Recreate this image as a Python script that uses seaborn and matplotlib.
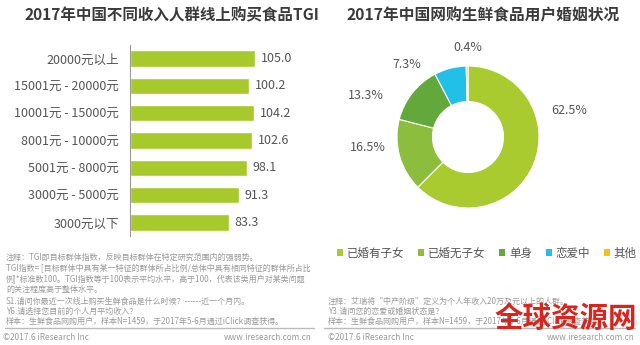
import matplotlib
matplotlib.use("Agg")
import matplotlib.pyplot as plt
import seaborn as sns
import pandas as pd
import numpy as np
from matplotlib.patches import Patch

sns.set_theme(style="white")
plt.rcParams['font.family'] = ['Noto Sans CJK SC', 'DejaVu Sans']

# ---- data ----
income_labels = ["20000元以上", "15001元 - 20000元", "10001元 - 15000元", "8001元 - 10000元",
                 "5001元 - 8000元", "3000元 - 5000元", "3000元以下"]
tgi_values = [105.0, 100.2, 104.2, 102.6, 98.1, 91.3, 83.3]

marital_labels = ["已婚有子女", "已婚无子女", "单身", "恋爱中", "其他"]
marital_share = [62.5, 16.5, 13.3, 7.3, 0.4]

title_left = "2017年中国不同收入人群线上购买食品TGI"
title_right = "2017年中国网购生鲜食品用户婚姻状况"

notes_left = [
    "注释：TGI即目标群体指数，反映目标群体在特定研究范围内的强弱势。",
    "TGI指数= [目标群体中具有某一特征的群体所占比例/总体中具有相同特征的群体所占比",
    "例]*标准数100。TGI指数等于100表示平均水平，高于100，代表该类用户对某类问题",
    "的关注程度高于整体水平。",
    "S1.请问你最近一次线上购买生鲜食品是什么时候？------近一个月内。",
    "Y6.请选择您目前的个人月平均收入？",
    "样本：生鲜食品网购用户，样本N=1459，于2017年5-6月通过iClick调查获得。",
]
notes_right = [
    "注释：艾瑞将“中产阶级”定义为个人年收入20万及元以上的人群。",
    "Y3.请问您的恋爱或婚姻状态是？",
    "样本：生鲜食品网购用户，样本N=1459，于2017年5-6月通过iClick调查获得。",
]

bar_color = "#a8c92c"
pie_colors = ["#a9cb2f", "#8cbd3c", "#62a83a", "#22c0e8", "#f0c419"]
text_color = "#555555"

W, H = 640, 345
fig = plt.figure(figsize=(6.4, 3.45), dpi=100)

def fx(px):
    return px / W

def fy(py):
    return 1 - py / H

# ---- titles ----
fig.text(fx(172), fy(15), title_left, ha="center", va="center", fontsize=11.2,
         fontweight="bold", color="#3a3a3a")
fig.text(fx(483), fy(15), title_right, ha="center", va="center", fontsize=11.3,
         fontweight="bold", color="#3a3a3a")

# ---- bar chart ----
ax = fig.add_axes([fx(130), fy(236), fx(143), (236 - 45) / H])
df = pd.DataFrame({"income": income_labels, "tgi": tgi_values})
sns.barplot(data=df, x="tgi", y="income", orient="h", color=bar_color,
            saturation=1, width=0.6, ax=ax)
ax.set_xlim(0, 120)
ax.set_xlabel("")
ax.set_ylabel("")
ax.set_xticks([])
for s in ["top", "right", "bottom"]:
    ax.spines[s].set_visible(False)
ax.spines["left"].set_color("#999999")
ax.spines["left"].set_linewidth(0.8)
ax.tick_params(axis="y", length=0, labelsize=9, labelcolor=text_color, pad=8)
for c in ax.containers:
    ax.bar_label(c, fmt="%.1f", padding=4, fontsize=9, color=text_color)

# ---- donut ----
R = 71
axp = fig.add_axes([fx(468 - R), fy(137 + R), fx(2 * R), 2 * R / H])
wedges, _ = axp.pie(marital_share, colors=pie_colors, startangle=90, counterclock=False,
                    radius=1, wedgeprops=dict(width=0.5, edgecolor="white", linewidth=0.8))
axp.set_xlim(-1, 1)
axp.set_ylim(-1, 1)
axp.set_aspect("equal")
# label positions (angle deg, distance in radii)
label_pos = [(14.8, 1.48), (186, 1.42), (157.6, 1.55), (130, 1.33), (90, 1.26)]
for val, (ang, dist) in zip(marital_share, label_pos):
    a = np.deg2rad(ang)
    axp.text(dist * np.cos(a), dist * np.sin(a), f"{val}%", ha="center", va="center",
             fontsize=9, color=text_color, clip_on=False)

handles = [Patch(facecolor=c, edgecolor="none") for c in pie_colors]
fig.legend(handles, marital_labels, loc="center", bbox_to_anchor=(fx(487), fy(253)),
           ncol=5, frameon=False, fontsize=8.3, handlelength=0.5, handleheight=0.5,
           handletextpad=0.35, columnspacing=1.2, labelcolor=text_color,
           borderpad=0, borderaxespad=0)

# ---- footnotes ----
note_color = "#9a9a9a"
ys = [257, 268, 279, 289, 301, 311, 321]
for y, t in zip(ys, notes_left):
    fig.text(fx(6), fy(y), t, ha="left", va="center", fontsize=5.8, color=note_color)
for y, t in zip(ys[-3:], notes_right):
    fig.text(fx(328), fy(y), t, ha="left", va="center", fontsize=5.8, color=note_color)

for x0, x1 in [(5, 314), (324, 635)]:
    fig.add_artist(plt.Line2D([fx(x0), fx(x1)], [fy(328), fy(328)], color="#bbbbbb", lw=1.0))

fig.text(fx(3), fy(338), "©2017.6 iResearch Inc", ha="left", va="center", fontsize=6.0, color=note_color)
fig.text(fx(312), fy(338), "www.iresearch.com.cn", ha="right", va="center", fontsize=5.9, color=note_color)
fig.text(fx(328), fy(338), "©2017.6 iResearch Inc", ha="left", va="center", fontsize=6.0, color=note_color)
fig.text(fx(635), fy(338), "www.iresearch.com.cn", ha="right", va="center", fontsize=5.9, color=note_color)

# watermark
fig.text(fx(566), fy(319), "全球资源网", ha="center", va="center", fontsize=20.5,
         fontweight="bold", color="#d8261e")

fig.savefig("out.png", dpi=100)
